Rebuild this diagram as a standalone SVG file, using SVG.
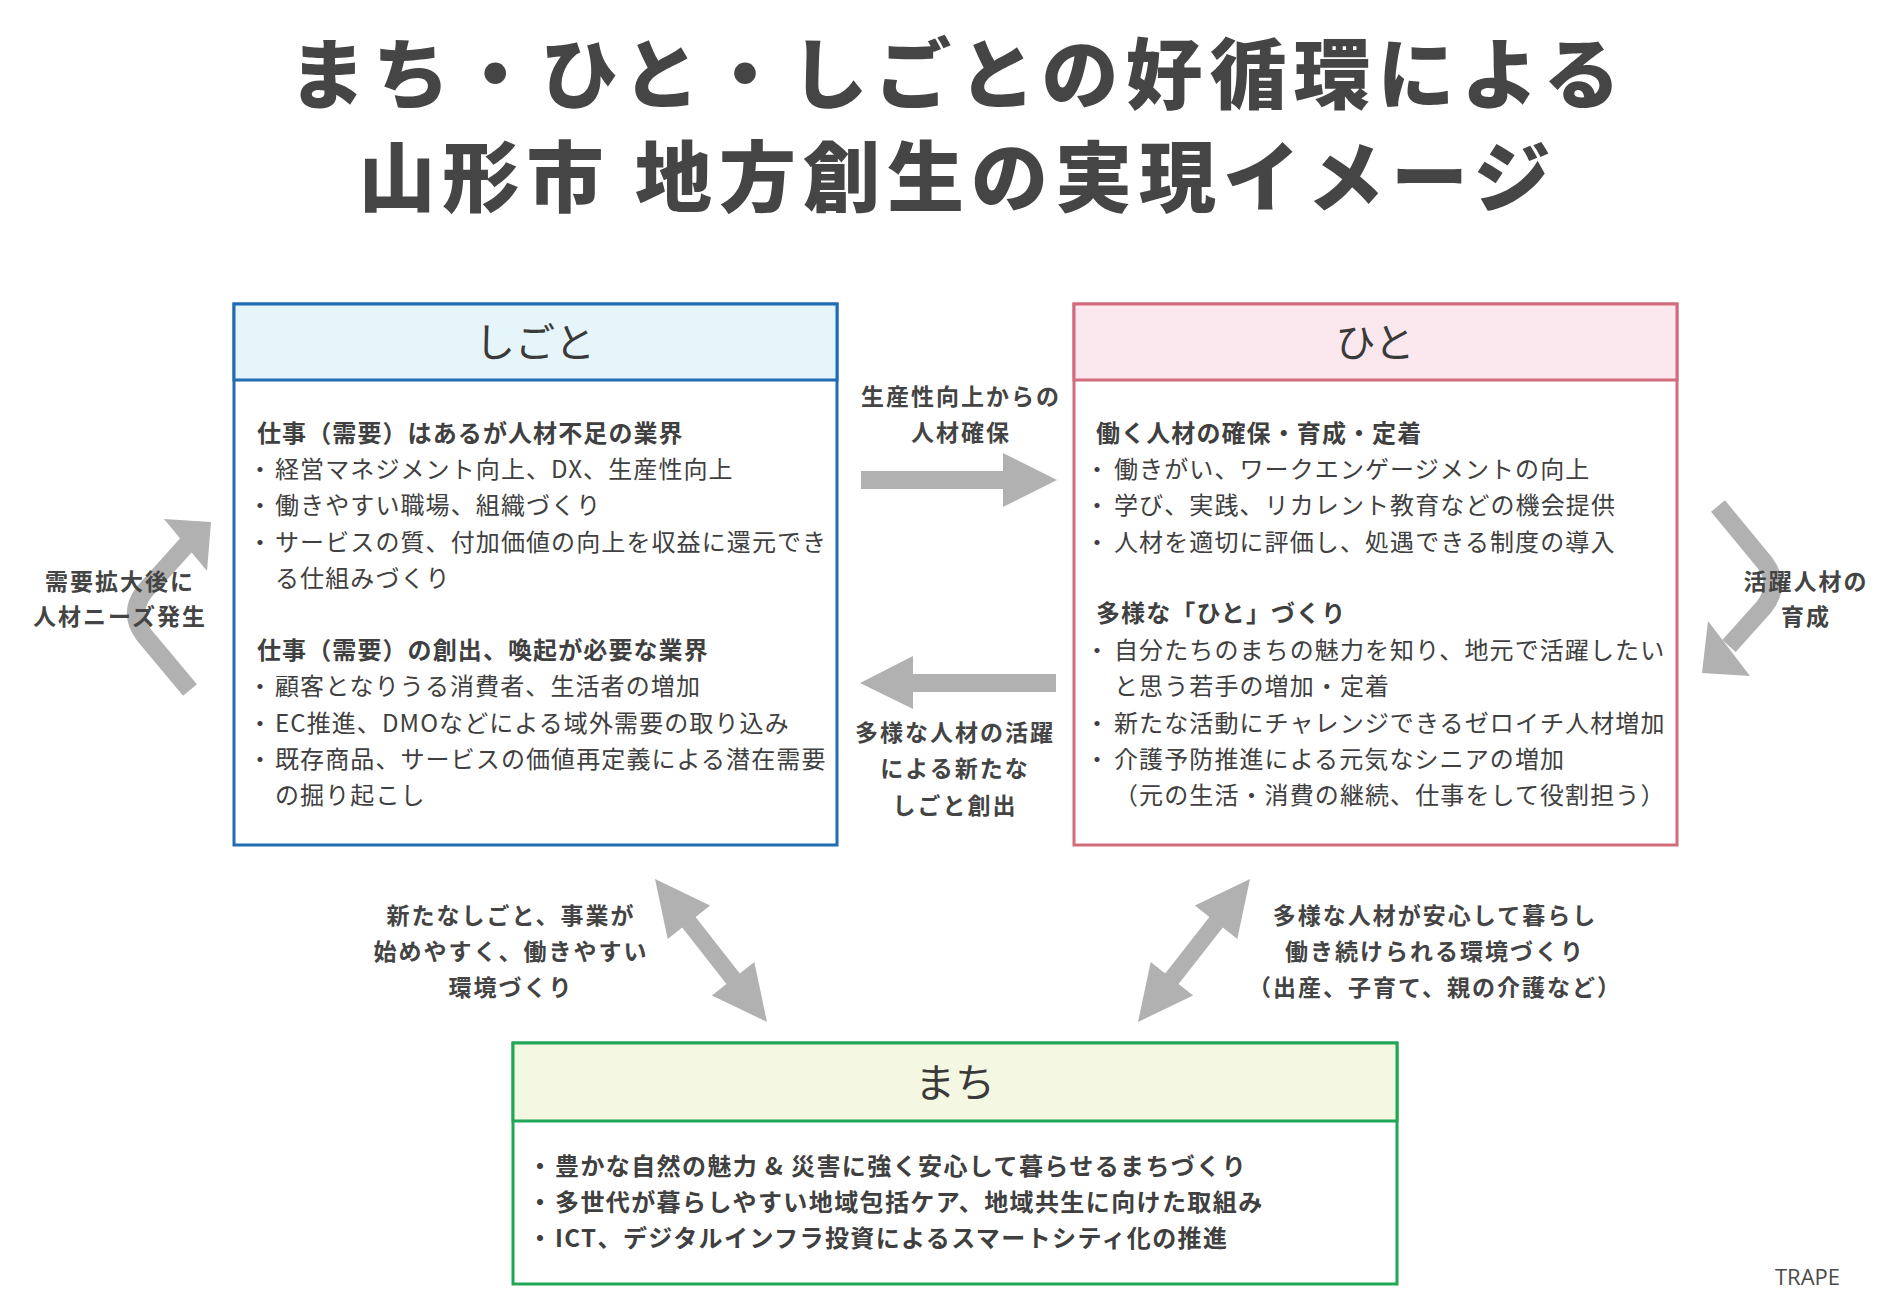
<svg xmlns="http://www.w3.org/2000/svg" width="1900" height="1316" viewBox="0 0 1900 1316">
<style>
text{font-family:"Noto Sans CJK JP","Noto Sans",sans-serif;fill:#404040}
.title{font-size:77px;font-weight:900;letter-spacing:7px;text-anchor:middle;fill:#454545}
.hdr{font-size:40px;text-anchor:middle;fill:#3a3a3a}
.body{font-size:24px;letter-spacing:1.1px}
.bh{font-weight:700}
.mb{font-size:24px;letter-spacing:1.4px;font-weight:700}
.lbl{font-size:23px;font-weight:700;letter-spacing:2px;text-anchor:middle;fill:#444}
.arr{fill:#b1b1b1}
.carr{fill:none;stroke:#b1b1b1;stroke-width:18}
.trape{font-family:"Open Sans","Noto Sans",sans-serif;font-size:22px;fill:#4a4a4a}
</style>
<rect width="1900" height="1316" fill="#ffffff"/>
<g id="title">
<text class="title" x="958" y="103">まち・ひと・しごとの好循環による</text>
<text class="title" x="958" y="206">山形市 地方創生の実現イメージ</text>
</g>
<g id="shigoto">
<rect x="234" y="304" width="603" height="541" fill="#ffffff" stroke="#1f6db3" stroke-width="3"/>
<rect x="234" y="304" width="603" height="76" fill="#e6f5fa" stroke="#1f6db3" stroke-width="3"/>
<text class="hdr" x="535" y="357">しごと</text>
<text class="body bh" x="257" y="442">仕事（需要）はあるが人材不足の業界</text>
<text class="body"><tspan x="248" y="478">・</tspan><tspan x="275" y="478">経営マネジメント向上、DX、生産性向上</tspan></text>
<text class="body"><tspan x="248" y="514">・</tspan><tspan x="275" y="514">働きやすい職場、組織づくり</tspan></text>
<text class="body"><tspan x="248" y="551">・</tspan><tspan x="275" y="551">サービスの質、付加価値の向上を収益に還元でき</tspan><tspan x="275" y="587">る仕組みづくり</tspan></text>
<text class="body bh" x="257" y="659">仕事（需要）の創出、喚起が必要な業界</text>
<text class="body"><tspan x="248" y="695">・</tspan><tspan x="275" y="695">顧客となりうる消費者、生活者の増加</tspan></text>
<text class="body"><tspan x="248" y="732">・</tspan><tspan x="275" y="732">EC推進、DMOなどによる域外需要の取り込み</tspan></text>
<text class="body"><tspan x="248" y="768">・</tspan><tspan x="275" y="768">既存商品、サービスの価値再定義による潜在需要</tspan><tspan x="275" y="804">の掘り起こし</tspan></text>
</g>
<g id="hito">
<rect x="1074" y="304" width="603" height="541" fill="#ffffff" stroke="#d26b7c" stroke-width="3"/>
<rect x="1074" y="304" width="603" height="76" fill="#fbe8ee" stroke="#d26b7c" stroke-width="3"/>
<text class="hdr" x="1375" y="357">ひと</text>
<text class="body bh" x="1096" y="442">働く人材の確保・育成・定着</text>
<text class="body"><tspan x="1085" y="478">・</tspan><tspan x="1114" y="478">働きがい、ワークエンゲージメントの向上</tspan></text>
<text class="body"><tspan x="1085" y="514">・</tspan><tspan x="1114" y="514">学び、実践、リカレント教育などの機会提供</tspan></text>
<text class="body"><tspan x="1085" y="551">・</tspan><tspan x="1114" y="551">人材を適切に評価し、処遇できる制度の導入</tspan></text>
<text class="body bh" x="1096" y="622">多様な「ひと」づくり</text>
<text class="body"><tspan x="1085" y="659">・</tspan><tspan x="1114" y="659">自分たちのまちの魅力を知り、地元で活躍したい</tspan><tspan x="1114" y="695">と思う若手の増加・定着</tspan></text>
<text class="body"><tspan x="1085" y="732">・</tspan><tspan x="1114" y="732">新たな活動にチャレンジできるゼロイチ人材増加</tspan></text>
<text class="body"><tspan x="1085" y="768">・</tspan><tspan x="1114" y="768">介護予防推進による元気なシニアの増加</tspan><tspan x="1114" y="804">（元の生活・消費の継続、仕事をして役割担う）</tspan></text>
</g>
<g id="machi">
<rect x="513" y="1043" width="884" height="241" fill="#ffffff" stroke="#1ea757" stroke-width="3"/>
<rect x="513" y="1043" width="884" height="78" fill="#f4f7e1" stroke="#1ea757" stroke-width="3"/>
<text class="hdr" x="955" y="1097">まち</text>
<text class="mb"><tspan x="528" y="1175">・</tspan><tspan x="555" y="1175">豊かな自然の魅力 &amp; 災害に強く安心して暮らせるまちづくり</tspan></text>
<text class="mb"><tspan x="528" y="1211">・</tspan><tspan x="555" y="1211">多世代が暮らしやすい地域包括ケア、地域共生に向けた取組み</tspan></text>
<text class="mb"><tspan x="528" y="1247">・</tspan><tspan x="555" y="1247">ICT、デジタルインフラ投資によるスマートシティ化の推進</tspan></text>
</g>
<g id="connectors">
<polygon class="arr" points="861,471 1003,471 1003,453 1057,480 1003,507 1003,489 861,489"/>
<polygon class="arr" points="1056,674 913,674 913,656 860,683 913,709 913,692 1056,692"/>
<polygon id="dbl-left" class="arr" points="655,879 710.1,905.6 695.6,917.1 739.8,973.5 754.3,962 767,1022 711.9,995.4 726.4,983.9 682.2,927.5 667.7,939"/>
<polygon id="dbl-right" class="arr" transform="translate(1905,0) scale(-1,1)" points="655,879 710.1,905.6 695.6,917.1 739.8,973.5 754.3,962 767,1022 711.9,995.4 726.4,983.9 682.2,927.5 667.7,939"/>
<path class="carr" d="M 190 690 L 144 635 Q 128 613 144 592 L 188 543"/>
<polygon class="arr" points="164,519 211,522 207,571"/>
<path class="carr" d="M 1718 506 L 1765 563 Q 1781 585 1764 607 L 1729 646"/>
<polygon class="arr" points="1708,621 1702,673 1750,676"/>
<text class="lbl" x="961" y="405">生産性向上からの</text>
<text class="lbl" x="961" y="441">人材確保</text>
<text class="lbl" x="955" y="741">多様な人材の活躍</text>
<text class="lbl" x="955" y="777">による新たな</text>
<text class="lbl" x="955" y="814">しごと創出</text>
<text class="lbl" x="120" y="590">需要拡大後に</text>
<text class="lbl" x="120" y="625">人材ニーズ発生</text>
<text class="lbl" x="1806" y="590">活躍人材の</text>
<text class="lbl" x="1806" y="625">育成</text>
<text class="lbl" x="511" y="924">新たなしごと、事業が</text>
<text class="lbl" x="511" y="960">始めやすく、働きやすい</text>
<text class="lbl" x="511" y="996">環境づくり</text>
<text class="lbl" x="1435" y="924">多様な人材が安心して暮らし</text>
<text class="lbl" x="1435" y="960">働き続けられる環境づくり</text>
<text class="lbl" x="1435" y="996">（出産、子育て、親の介護など）</text>
</g>
<text class="trape" x="1775" y="1285">TRAPE</text>
</svg>
